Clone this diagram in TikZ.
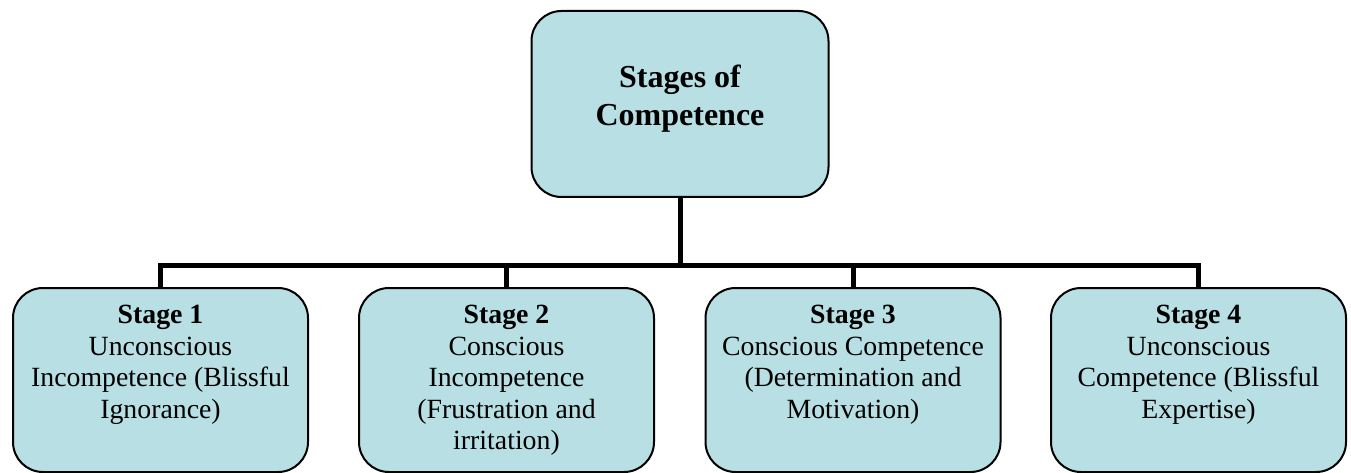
\documentclass[tikz,border=0pt]{standalone}
\usepackage{fontspec}
\setmainfont{Liberation Serif}
\usetikzlibrary{backgrounds}
\definecolor{boxfill}{RGB}{184,223,227}
\begin{document}
\begin{tikzpicture}[x=1pt,y=-1pt,
  box/.style={draw=black, line width=2pt, fill=boxfill, rounded corners=30pt, inner sep=0pt},
  stagebox/.style={box, minimum width=295pt, minimum height=184pt},
  topbox/.style={box, minimum width=297pt, minimum height=186pt},
  conn/.style={line width=5pt, black, line join=miter},
  toptext/.style={anchor=north, align=center, inner sep=0pt, font=\fontsize{32}{38}\selectfont\bfseries},
  stagetext/.style={anchor=north, align=center, inner sep=0pt, font=\fontsize{27.8}{31.5}\selectfont}]
\useasboundingbox (0,0) rectangle (1351,473);
\coordinate (bus) at (680,265);
% boxes
\node[topbox] (top) at (680,104) {};
\node[stagebox] (s1) at (160.5,380) {};
\node[stagebox] (s2) at (506.5,380) {};
\node[stagebox] (s3) at (853,380) {};
\node[stagebox] (s4) at (1198.5,380) {};
% connectors behind the boxes
\begin{scope}[on background layer]
\draw[conn] (top.south) -- (top.south |- bus);
\draw[conn] (s1.north) -- (s1.north |- bus) -- (s4.north |- bus) -- (s4.north);
\draw[conn] (s2.north) -- (s2.north |- bus);
\draw[conn] (s3.north) -- (s3.north |- bus);
\end{scope}
% texts
\node[toptext] (t0) at ([yshift=-55pt]top.north) {Stages of\\Competence};
\node[stagetext] (t1) at ([yshift=-18pt]s1.north) {\textbf{Stage 1}\\Unconscious\\Incompetence (Blissful\\Ignorance)};
\node[stagetext] (t2) at ([yshift=-18pt]s2.north) {\textbf{Stage 2}\\Conscious\\Incompetence\\(Frustration and\\irritation)};
\node[stagetext] (t3) at ([yshift=-18pt]s3.north) {\textbf{Stage 3}\\Conscious Competence\\(Determination and\\Motivation)};
\node[stagetext] (t4) at ([yshift=-18pt]s4.north) {\textbf{Stage 4}\\Unconscious\\Competence (Blissful\\Expertise)};
\end{tikzpicture}
\end{document}
